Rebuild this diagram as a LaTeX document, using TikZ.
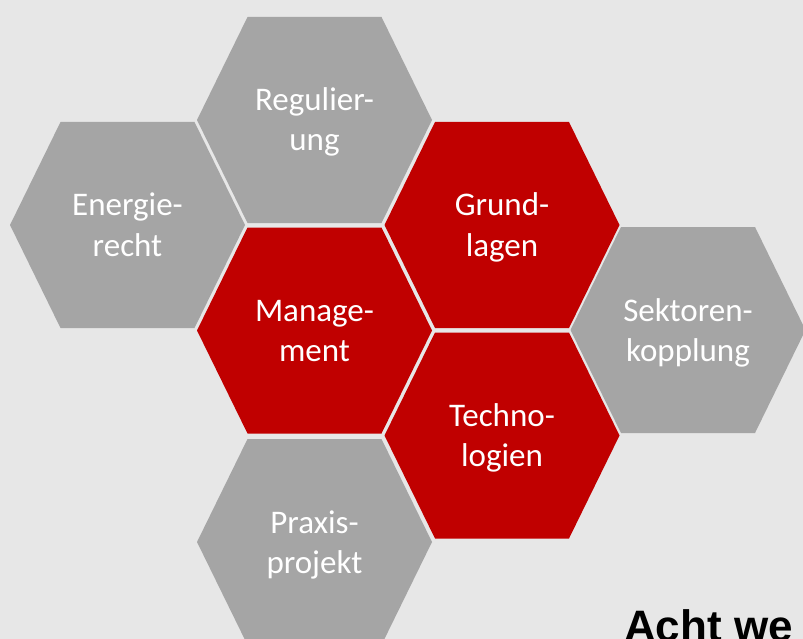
\documentclass[tikz,border=0pt]{standalone}
\usepackage{fontspec}
\setmainfont{Carlito}
\newfontfamily\titlefont{Liberation Sans}
\definecolor{bgc}{HTML}{E7E7E7}
\definecolor{hexgray}{HTML}{A5A5A5}
\definecolor{hexred}{HTML}{C00000}
\begin{document}
\begin{tikzpicture}[x=1bp,y=-1bp,
  hexlabel/.style={text=white,align=center,anchor=base,inner sep=0pt,
    font=\fontsize{33bp}{40bp}\selectfont},
  graycell/.style={fill=hexgray},
  redcell/.style={fill=hexred},
  pics/hexa/.style={code={
    \fill[#1] (-117.5,0) -- (-67,-103) -- (67,-103) -- (117.5,0) -- (67,103) -- (-67,103) -- cycle;}}]
\fill[bgc] (0,0) rectangle (803,639);
\useasboundingbox (0,0) rectangle (803,639);
\clip (0,0) rectangle (803,639);
% cells
\pic at (127.5,225) {hexa=graycell};
\pic at (314.5,120) {hexa=graycell};
\pic at (502,225) {hexa=redcell};
\pic at (314.5,330.5) {hexa=redcell};
\pic at (688,330) {hexa=graycell};
\pic at (502,435.5) {hexa=redcell};
\pic at (314.5,542) {hexa=graycell};
% labels (base = baseline of the last line)
\node[hexlabel] (energie) at (127.5,256) {Energie-\\recht};
\node[hexlabel] (regul) at (314.5,151) {Regulier-\\ung};
\node[hexlabel] (grund) at (502,256) {Grund-\\lagen};
\node[hexlabel] (manage) at (314.5,361.5) {Manage-\\ment};
\node[hexlabel] (sektor) at (688,361) {Sektoren-\\kopplung};
\node[hexlabel] (techno) at (502,466.5) {Techno-\\logien};
\node[hexlabel] (praxis) at (314.5,573) {Praxis-\\projekt};
\node[anchor=base west,inner sep=0pt,font=\titlefont\bfseries\fontsize{44bp}{50bp}\selectfont] (title) at (624,641) {Acht we};
\end{tikzpicture}
\end{document}
